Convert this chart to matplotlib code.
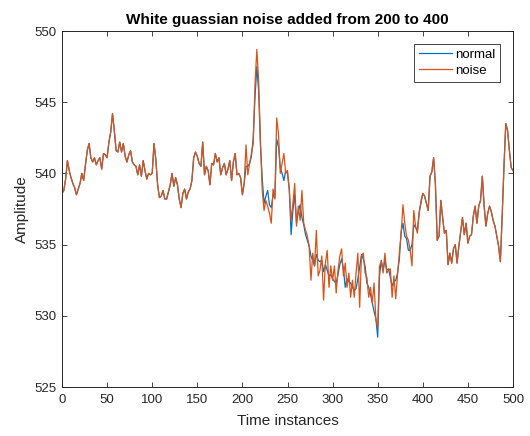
import numpy as np
import matplotlib
matplotlib.use('Agg')
import matplotlib.pyplot as plt

# sample index (every 2nd sample)
t = np.arange(0, 501, 2)

# clean signal
normal = [
    538.6, 538.8, 539.6, 540.9, 540.2, 539.7, 539.3, 539.0, 538.5, 538.9,
    539.3, 540.0, 539.5, 540.6, 541.6, 542.1, 541.1, 540.8, 541.1, 540.6,
    540.9, 541.1, 540.3, 541.4, 541.3, 541.1, 542.2, 542.9, 544.2, 543.0,
    541.6, 541.5, 542.2, 541.5, 542.1, 541.2, 540.8, 541.3, 541.6, 540.8,
    540.6, 540.5, 539.9, 540.6, 539.8, 540.9, 540.2, 539.6, 540.0, 539.9,
    540.0, 542.1, 541.0, 539.2, 538.3, 538.4, 538.8, 538.2, 538.2, 538.7,
    539.2, 540.0, 539.1, 539.7, 539.2, 538.2, 537.6, 538.6, 538.9, 538.2,
    538.7, 538.9, 539.5, 541.1, 541.5, 541.2, 540.7, 540.5, 542.2, 539.9,
    540.5, 540.2, 539.2, 540.7, 540.6, 541.4, 540.8, 541.1, 539.9, 540.4,
    540.7, 539.9, 540.3, 540.9, 539.5, 540.8, 541.4, 539.9, 540.0, 539.7,
    538.5, 539.3, 540.5, 540.5, 540.7, 541.2, 542.5, 545.4, 547.5, 545.8,
    542.0, 539.6, 537.9, 538.4, 538.8, 537.8, 537.6, 538.5, 538.3, 542.4,
    541.9, 540.4, 540.0, 539.5, 540.2, 540.0, 538.9, 535.7, 537.4, 538.5,
    536.5, 537.3, 537.8, 536.9, 536.4, 535.7, 535.3, 534.9, 534.2, 533.9,
    533.5, 534.3, 533.9, 533.8, 533.9, 533.1, 533.6, 533.2, 532.8, 532.9,
    532.6, 532.4, 532.3, 532.9, 533.6, 534.0, 533.3, 532.0, 532.6, 532.4,
    532.3, 532.0, 531.8, 531.9, 532.6, 533.4, 534.3, 534.0, 533.5, 532.3,
    532.0, 531.5, 530.9, 530.3, 529.8, 528.5, 532.8, 533.9, 533.2, 533.9,
    533.2, 533.3, 532.7, 532.1, 532.4, 532.5, 533.0, 534.0, 535.9, 536.5,
    535.6, 535.4, 534.6, 534.6, 535.0, 536.4, 536.2, 536.0, 537.3, 537.9,
    538.6, 538.4, 537.9, 537.4, 539.8, 540.1, 541.1, 539.2, 535.3, 535.6,
    538.1, 536.9, 535.8, 536.0, 533.6, 534.4, 533.7, 534.7, 535.0, 533.7,
    534.9, 535.9, 536.9, 535.7, 536.5, 535.1, 535.6, 535.7, 537.0, 537.7,
    536.5, 537.7, 538.1, 539.8, 537.7, 536.3, 537.2, 537.7, 537.3, 536.7,
    536.3, 535.6, 534.9, 533.8, 537.0, 540.5, 543.5, 543.0, 541.6, 540.4,
    540.2,
]

# noisy samples between 200 and 400
noise_start, noise_end = 200, 400
noise_part = [
    538.5, 539.3, 542.0, 539.9, 540.7, 541.4, 542.1, 546.3, 548.7, 546.5,
    542.3, 538.8, 537.4, 538.1, 537.7, 537.2, 536.5, 538.9, 538.2, 543.9,
    542.8, 540.0, 540.7, 541.4, 540.0, 540.2, 538.8, 536.7, 537.9, 539.3,
    536.3, 537.7, 536.7, 538.8, 536.5, 536.0, 535.6, 534.9, 532.5, 534.4,
    533.5, 536.0, 532.8, 533.2, 534.2, 531.1, 533.7, 534.6, 532.0, 533.5,
    532.5, 533.5, 531.6, 533.2, 534.2, 534.7, 532.8, 533.7, 532.0, 533.0,
    531.3, 532.5, 531.3, 533.0, 534.4, 530.6, 534.2, 534.4, 533.0, 532.7,
    531.3, 532.0, 530.9, 532.3, 529.7, 529.2, 533.5, 533.8, 533.0, 534.4,
    533.0, 533.2, 533.3, 531.3, 532.8, 531.2, 532.9, 534.4, 535.8, 537.8,
    536.5, 535.6, 535.3, 534.6, 533.5, 537.4, 536.3, 535.8, 537.2, 538.1,
    538.6,
]

noisy = np.array(normal, dtype=float)
mask = (t >= noise_start) & (t <= noise_end)
noisy[mask] = noise_part

axcol = '#262626'
plt.rcParams['font.family'] = ['Liberation Sans', 'DejaVu Sans']

fig = plt.figure(figsize=(5.3, 4.36), dpi=100)
ax = fig.add_axes([62 / 530, 49 / 436, 451 / 530, 356 / 436])
ax.plot(t, normal, color='#0072BD', lw=0.9, label='normal')
ax.plot(t, noisy, color='#D95319', lw=0.9, label='noise')

ax.set_xlim(0, 500)
ax.set_ylim(525, 550)
ax.set_xticks(np.arange(0, 501, 50))
ax.set_yticks(np.arange(525, 551, 5))
ax.tick_params(direction='in', top=True, right=True, length=3.3, width=0.6,
               colors=axcol, labelsize=9.5)
ax.tick_params(axis='x', pad=5)
ax.tick_params(axis='y', pad=4)
for s in ax.spines.values():
    s.set_color(axcol)
    s.set_linewidth(0.7)

ax.set_title('White guassian noise added from 200 to 400', fontsize=11,
             fontweight='bold', color='black', pad=5)
ax.set_xlabel('Time instances', fontsize=11, color=axcol, labelpad=6)
ax.set_ylabel('Amplitude', fontsize=11, color=axcol, labelpad=4)

leg = ax.legend(loc='upper right', bbox_to_anchor=(0.971, 0.9635),
                borderaxespad=0, fancybox=False, framealpha=1,
                edgecolor=axcol, fontsize=9.5, handlelength=2.5,
                handletextpad=0.25, borderpad=0.35, labelspacing=0.3)
leg.get_frame().set_linewidth(0.6)

fig.savefig('out.png', dpi=100)
